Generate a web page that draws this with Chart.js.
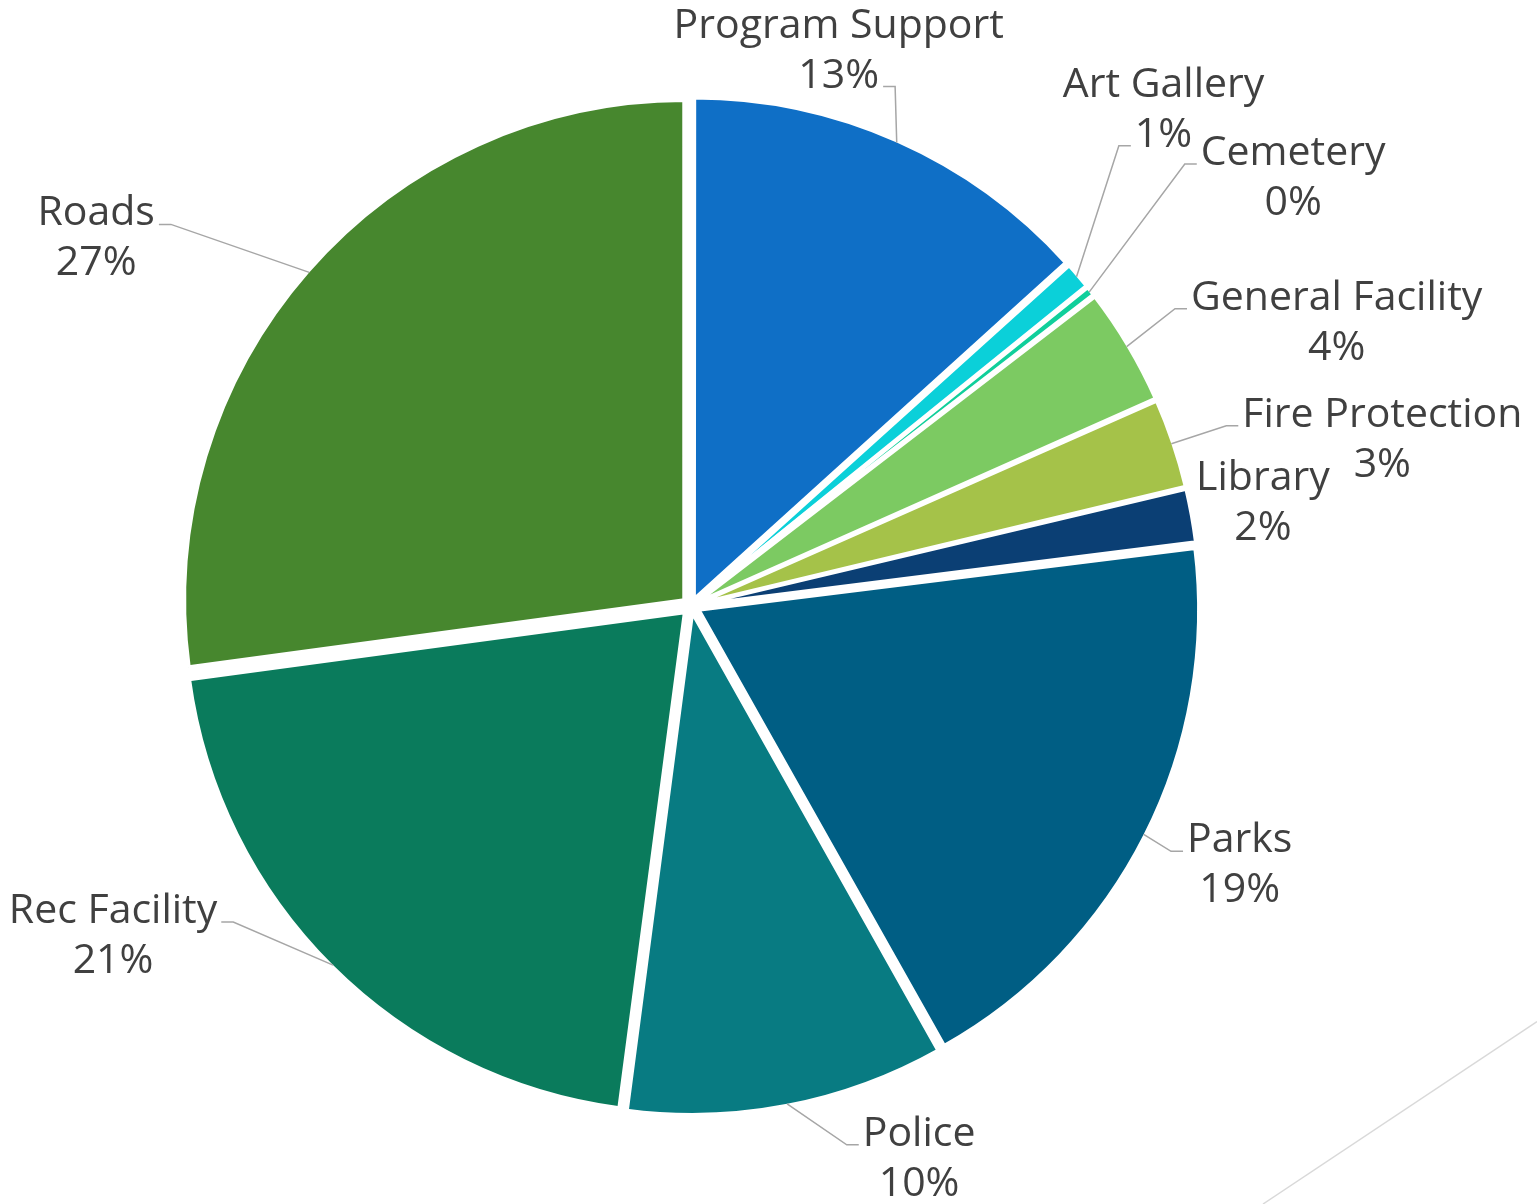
<!DOCTYPE html>
<html><head><meta charset="utf-8">
<script src="https://cdn.jsdelivr.net/npm/chart.js@4.4.1/dist/chart.umd.min.js"></script>
<style>html,body{margin:0;padding:0;background:#fff;} #wrap{width:1537px;height:1204px;position:relative;}</style>
</head><body><div id="wrap"><canvas id="c"></canvas></div>
<script>
const categories = ['Program Support','Art Gallery','Cemetery','General Facility','Fire Protection','Library','Parks','Police','Rec Facility','Roads'];
const shares = [13.3, 0.9, 0.35, 3.81, 2.91, 1.76, 18.81, 10.25, 20.77, 27.14];
const sliceColors = ['#0F6FC6','#0BD0D9','#10CF9B','#7CCA62','#A5C249','#0B3F74','#005E84','#087B82','#0A7B5C','#47872E'];
// label layout: offset of line-1 centre/baseline from the slice's outer edge point; leader attach line
const labelOffsets = [[-58,-105],[87,-180],[204,-127],[210,-37],[211,-17],[73,-26],[96,18],[132,42],[-220,-42],[-213,-47]];
const leaderLine = [1,1,0,0,0,null,0,0,0,0];

const total = shares.reduce((a,b)=>a+b,0);
const explode = 9;

const decoLine = {
  id: 'decoLine',
  beforeDraw(chart){
    const ctx = chart.ctx;
    ctx.save();
    ctx.strokeStyle = '#D9D9D9'; ctx.lineWidth = 1.5;
    ctx.beginPath(); ctx.moveTo(1537, 1021.5); ctx.lineTo(1263, 1204); ctx.stroke();
    ctx.restore();
  }
};

const outsideLabels = {
  id: 'outsideLabels',
  afterDatasetsDraw(chart) {
    const ctx = chart.ctx;
    const meta = chart.getDatasetMeta(0);
    ctx.save();
    ctx.font = '41px "Open Sans"';
    ctx.textAlign = 'center';
    ctx.textBaseline = 'alphabetic';
    meta.data.forEach((arc, i) => {
      const mid = (arc.startAngle + arc.endAngle) / 2;
      const r = arc.outerRadius + 7;
      const ex = arc.x + Math.cos(mid) * r, ey = arc.y + Math.sin(mid) * r;
      const lx = ex + labelOffsets[i][0], ly = ey + labelOffsets[i][1];
      const lines = [categories[i], Math.round(shares[i] / total * 100) + '%'];
      ctx.fillStyle = '#404040';
      lines.forEach((t, k) => ctx.fillText(t, lx, ly + k * 50));
      const li = leaderLine[i];
      if (li !== null) {
        const w = ctx.measureText(lines[li]).width;
        const by = ly + li * 50 - 1;
        const right = lx < ex;
        const endX = right ? lx + w / 2 + 4 : lx - w / 2 - 4;
        const elbowX = right ? endX + 12 : endX - 12;
        ctx.strokeStyle = '#A6A6A6'; ctx.lineWidth = 1.5;
        ctx.beginPath(); ctx.moveTo(ex, ey); ctx.lineTo(elbowX, by); ctx.lineTo(endX, by); ctx.stroke();
      }
    });
    ctx.restore();
  }
};

new Chart(document.getElementById('c'), {
  type: 'pie',
  data: {
    labels: categories,
    datasets: [{
      data: shares,
      backgroundColor: sliceColors,
      borderColor: '#FFFFFF',
      borderWidth: 4,
      radius: 500,
      offset: (c) => {
        const ang = (c.raw / total) * 2 * Math.PI;
        return 4 * explode / (2 - Math.sin(Math.min(Math.PI, ang)));
      }
    }]
  },
  options: {
    responsive: true,
    maintainAspectRatio: false,
    animation: false,
    layout: { padding: { left: 0, right: 155, top: 8, bottom: 0 } },
    plugins: { legend: { display: false }, tooltip: { enabled: false } }
  },
  plugins: [decoLine, outsideLabels]
});
</script></body></html>
